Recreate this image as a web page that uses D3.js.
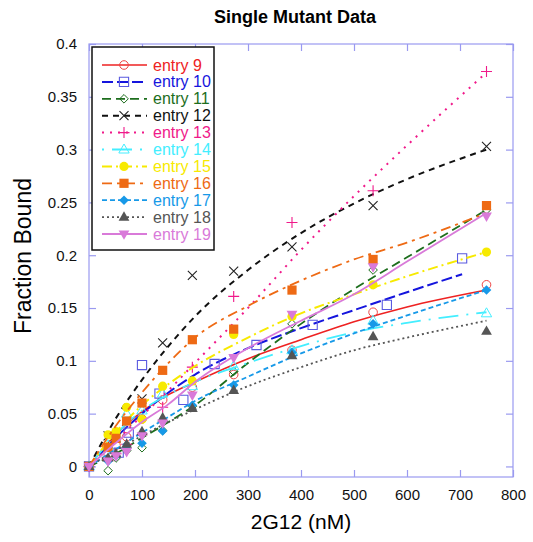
<!DOCTYPE html>
<html><head><meta charset="utf-8">
<script src="https://cdn.jsdelivr.net/npm/d3@7"></script>
<style>body{margin:0;background:#fff}svg{display:block}text{font-family:"Liberation Sans",Arial,sans-serif}</style>
</head><body>
<svg id="c" width="533" height="542"></svg>
<script>
// ---- data ----
const seriesNames = ["entry 9","entry 10","entry 11","entry 12","entry 13","entry 14","entry 15","entry 16","entry 17","entry 18","entry 19"];
const xMain = [0, 36, 51, 71, 100, 139, 195, 273, 383, 536, 750];
const x10   = [0, 56, 75, 100, 133, 178, 237, 316, 422, 562, 704];
const y9  = [0, 0.012, 0.020, 0.028, 0.045, 0.063, 0.075, 0.087, 0.110, 0.146, 0.172];
const y10 = [0, 0.013, 0.032, 0.096, 0.069, 0.063, 0.097, 0.115, 0.134, 0.153, 0.197];
const y11 = [0, -0.004, 0.008, 0.015, 0.0177, 0.034, 0.057, 0.090, 0.135, 0.186, 0.243];
const y12 = [0, 0.029, 0.027, 0.043, 0.064, 0.117, 0.181, 0.185, 0.208, 0.247, 0.303];
const y13 = [0, 0.006, 0.012, 0.021, 0.030, 0.056, 0.094, 0.161, 0.231, 0.261, 0.374];
const y14 = [0, 0.020, 0.030, 0.050, 0.053, 0.069, 0.076, 0.095, 0.110, 0.138, 0.145];
const y15 = [0, 0.030, 0.033, 0.056, 0.0446, 0.076, 0.081, 0.125, 0.142, 0.172, 0.203];
const y16 = [0, 0.018, 0.0266, 0.043, 0.060, 0.091, 0.120, 0.130, 0.167, 0.196, 0.247];
const y17 = [0, 0.005, 0.010, 0.017, 0.022, 0.0335, 0.058, 0.077, 0.108, 0.135, 0.167];
const y18 = [0, 0.008, 0.012, 0.021, 0.033, 0.046, 0.055, 0.072, 0.105, 0.123, 0.128];
const y19 = [0, 0.005, 0.010, 0.014, 0.029, 0.041, 0.0675, 0.103, 0.144, 0.189, 0.237];
// fitted curves
const fitX   = [0, 50, 100, 150, 200, 300, 400, 500, 600, 750];
const fitX10 = [0, 50, 100, 150, 200, 300, 400, 500, 600, 704];
const fit9  = [0, 0.030, 0.052, 0.068, 0.080, 0.102, 0.120, 0.137, 0.151, 0.167];
const fit10 = [0, 0.027, 0.050, 0.070, 0.087, 0.112, 0.131, 0.148, 0.165, 0.182];
const fit11 = [0, 0.012, 0.027, 0.042, 0.058, 0.098, 0.135, 0.168, 0.198, 0.243];
const fit12 = [0, 0.045, 0.082, 0.114, 0.142, 0.186, 0.221, 0.249, 0.272, 0.300];
const fit13 = [0, 0.024, 0.048, 0.072, 0.098, 0.150, 0.205, 0.256, 0.304, 0.373];
const fit14 = [0, 0.030, 0.053, 0.068, 0.080, 0.098, 0.114, 0.127, 0.136, 0.146];
const fit15 = [0, 0.032, 0.058, 0.078, 0.095, 0.122, 0.145, 0.163, 0.180, 0.203];
const fit16 = [0, 0.038, 0.070, 0.098, 0.122, 0.152, 0.176, 0.196, 0.212, 0.240];
const fit17 = [0, 0.016, 0.032, 0.047, 0.062, 0.085, 0.107, 0.126, 0.143, 0.167];
const fit18 = [0, 0.015, 0.029, 0.042, 0.054, 0.076, 0.094, 0.110, 0.122, 0.138];
const fit19 = [0, 0.022, 0.042, 0.059, 0.080, 0.112, 0.138, 0.163, 0.194, 0.240];
const xTicks = [0,100,200,300,400,500,600,700,800];
const yTicks = [0,0.05,0.1,0.15,0.2,0.25,0.3,0.35,0.4];

// ---- styles ----
const colors = ["#ee2222","#1515dd","#1d6e1d","#111111","#f0198a","#44eeff","#f7ea00","#ee6a14","#1799e8","#555555","#d97ad9"];
const markerColors = ["#ee4444","#5a5ae0","#1d6e1d","#222222","#f0198a","#44eeff","#f7ea00","#ee6a14","#1799e8","#555555","#d97ad9"];
const dashes = [null,"11,4","9,5","6,5","2,6","2,8,20,8","10,4,2,4","10,5,3,5","5,3","2,3",null];
const widths = [1.6,2,1.8,2,2,1.8,2,1.8,1.8,1.8,1.8];
const markers = ["circle","square","diamond","x","plus","triUp","dot","fsquare","fdiamond","ftriUp","ftriDown"];

const xs = [xMain,x10,xMain,xMain,xMain,xMain,xMain,xMain,xMain,xMain,xMain];
const ys = [y9,y10,y11,y12,y13,y14,y15,y16,y17,y18,y19];
const fxs = [fitX,fitX10,fitX,fitX,fitX,fitX,fitX,fitX,fitX,fitX,fitX];
const fys = [fit9,fit10,fit11,fit12,fit13,fit14,fit15,fit16,fit17,fit18,fit19];

const svg = d3.select("#c");
const L=89, R=513, T=44, B=477;
const x = d3.scaleLinear().domain([0,800]).range([L,R]);
const y = d3.scaleLinear().domain([-0.01,0.4]).range([B,T]);
const frameColor = "#9a9af0";

// frame & ticks
svg.append("rect").attr("x",L).attr("y",T).attr("width",R-L).attr("height",B-T)
  .attr("fill","none").attr("stroke",frameColor).attr("stroke-width",1.2);
const gx = svg.append("g").attr("transform",`translate(0,${B})`)
  .call(d3.axisBottom(x).tickValues(xTicks).tickSize(-7).tickPadding(12).tickFormat(d3.format("d")));
const gxt = svg.append("g").attr("transform",`translate(0,${T})`)
  .call(d3.axisTop(x).tickValues(xTicks).tickSize(-7).tickFormat(""));
const gy = svg.append("g").attr("transform",`translate(${L},0)`)
  .call(d3.axisLeft(y).tickValues(yTicks).tickSize(-7).tickPadding(12).tickFormat(d=>d===0?"0":d3.format("")(+d.toFixed(2))));
const gyr = svg.append("g").attr("transform",`translate(${R},0)`)
  .call(d3.axisRight(y).tickValues(yTicks).tickSize(-7).tickFormat(""));
[gx,gxt,gy,gyr].forEach(g=>{
  g.select(".domain").remove();
  g.selectAll(".tick line").attr("stroke",frameColor).attr("stroke-width",1.2);
  g.selectAll(".tick text").attr("font-size",15).attr("fill","#111").attr("font-family","Liberation Sans, Arial, sans-serif");
});

// titles
svg.append("text").attr("x",295).attr("y",23).attr("text-anchor","middle")
  .attr("font-size",18).attr("font-weight","bold").text("Single Mutant Data");
svg.append("text").attr("x",301).attr("y",529).attr("text-anchor","middle")
  .attr("font-size",21).text("2G12 (nM)");
svg.append("text").attr("transform","translate(31,256) rotate(-90)").attr("text-anchor","middle")
  .attr("font-size",23).text("Fraction Bound");

function marker(g, type, color){
  const s=4.6;
  let p;
  switch(type){
    case "circle": return g.append("circle").attr("r",4.3).attr("fill","none").attr("stroke",color).attr("stroke-width",1);
    case "dot": return g.append("circle").attr("r",4.6).attr("fill",color).attr("stroke","none");
    case "square": p=`M${-s},${-s}H${s}V${s}H${-s}Z`; return g.append("path").attr("d",p).attr("fill","none").attr("stroke",color).attr("stroke-width",1.1);
    case "fsquare": p=`M${-s},${-s}H${s}V${s}H${-s}Z`; return g.append("path").attr("d",p).attr("fill",color);
    case "diamond": p="M0,-4.3L4.3,0L0,4.3L-4.3,0Z"; return g.append("path").attr("d",p).attr("fill","none").attr("stroke",color).attr("stroke-width",1);
    case "fdiamond": p="M0,-4.8L4.8,0L0,4.8L-4.8,0Z"; return g.append("path").attr("d",p).attr("fill",color);
    case "x": p="M-4.5,-4.5L4.5,4.5M-4.5,4.5L4.5,-4.5"; return g.append("path").attr("d",p).attr("stroke",color).attr("stroke-width",1.1).attr("fill","none");
    case "plus": p="M-5.5,0H5.5M0,-5.5V5.5"; return g.append("path").attr("d",p).attr("stroke",color).attr("stroke-width",1.1).attr("fill","none");
    case "triUp": p="M0,-5.5L5.2,3.5L-5.2,3.5Z"; return g.append("path").attr("d",p).attr("fill","none").attr("stroke",color).attr("stroke-width",1);
    case "ftriUp": p="M0,-5.8L5.4,3.6L-5.4,3.6Z"; return g.append("path").attr("d",p).attr("fill",color);
    case "ftriDown": p="M0,5.8L5.4,-3.6L-5.4,-3.6Z"; return g.append("path").attr("d",p).attr("fill",color);
  }
}

const line = d3.line().x(d=>x(d[0])).y(d=>y(d[1])).curve(d3.curveMonotoneX);
const plot = svg.append("g");
seriesNames.forEach((name,i)=>{
  const pts = fxs[i].map((v,k)=>[v,fys[i][k]]);
  const path = plot.append("path").datum(pts).attr("d",line).attr("fill","none")
    .attr("stroke",colors[i]).attr("stroke-width",widths[i]).attr("stroke-linecap","butt");
  if(dashes[i]) path.attr("stroke-dasharray",dashes[i]);
  xs[i].forEach((xv,k)=>{
    const yv = ys[i][k];
    if(yv==null) return;
    const g = plot.append("g").attr("transform",`translate(${x(xv)},${y(yv)})`);
    marker(g, markers[i], markerColors[i]);
  });
});

// legend
const lg = svg.append("g");
lg.append("rect").attr("x",92).attr("y",47).attr("width",122).attr("height",203)
  .attr("fill","#fff").attr("stroke","#111").attr("stroke-width",1.5);
const legY = d3.scaleLinear().domain([0,10]).range([65,234]);
seriesNames.forEach((name,i)=>{
  const yy = legY(i);
  const ln = lg.append("line").attr("x1",102).attr("x2",147).attr("y1",yy).attr("y2",yy)
    .attr("stroke",colors[i]).attr("stroke-width",widths[i]);
  if(dashes[i]) ln.attr("stroke-dasharray",dashes[i]);
  marker(lg.append("g").attr("transform",`translate(124,${yy})`), markers[i], markerColors[i]);
  lg.append("text").attr("x",153).attr("y",yy+5.5).attr("font-size",16).attr("fill",colors[i]).text(name);
});
</script>
</body></html>
